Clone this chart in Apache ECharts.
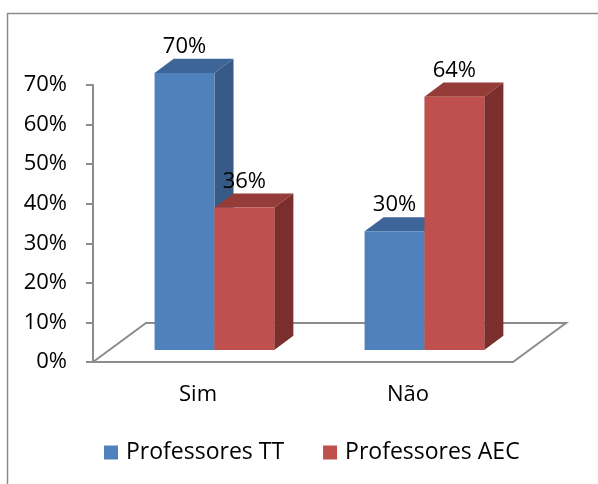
<!DOCTYPE html>
<html>
<head>
<meta charset="utf-8">
<script src="https://cdn.jsdelivr.net/npm/echarts@6/dist/echarts.min.js"></script>
<style>html,body{margin:0;padding:0;background:#fff;}#c{width:598px;height:484px;}</style>
</head>
<body>
<div id="c"></div>
<script>
var categories = ['Sim', 'Não'];
var seriesNames = ['Professores TT', 'Professores AEC'];
var valuesTT = [70, 30];
var valuesAEC = [36, 64];
var yTicks = [0, 10, 20, 30, 40, 50, 60, 70];

var FONT = '"Open Sans", "Noto Sans", sans-serif';
var DEPTH_X = 53, DEPTH_Y = -39;     // floor depth offset in px
var BAR_Z0 = 0.31, BAR_DZ = 0.36;    // bar position in depth (fraction)
var BAR_W = 0.285;                   // bar width as fraction of band
var colors = [
  {front: '#4F81BD', top: '#3E6598', side: '#375A87'},
  {front: '#C0504D', top: '#953B38', side: '#7A2F2D'}
];

function barRender(sIdx) {
  return function (params, api) {
    var cat = api.value(0), v = api.value(1);
    var bw = api.size([1, 0])[0];
    var c = api.coord([cat, 0]);
    var t = api.coord([cat, v]);
    var w = bw * BAR_W;
    var ox = BAR_Z0 * DEPTH_X, oy = BAR_Z0 * DEPTH_Y;
    var dx = BAR_DZ * DEPTH_X, dy = BAR_DZ * DEPTH_Y;
    var x0 = c[0] - w + sIdx * w + ox, x1 = x0 + w;
    var yb = c[1] + oy, yt = t[1] + oy;
    var col = colors[sIdx];
    return {
      type: 'group',
      children: [
        {type: 'polygon', shape: {points: [[x0, yt], [x1, yt], [x1 + dx, yt + dy], [x0 + dx, yt + dy]]}, style: {fill: col.top}},
        {type: 'polygon', shape: {points: [[x1, yt], [x1 + dx, yt + dy], [x1 + dx, yb + dy], [x1, yb]]}, style: {fill: col.side}},
        {type: 'rect', shape: {x: x0, y: yt, width: w, height: yb - yt}, style: {fill: col.front}},
        {type: 'text', x: (x0 + x1) / 2, y: yt + dy - 1, style: {text: v + '%', fill: '#000', font: '22px ' + FONT, align: 'center', verticalAlign: 'bottom'}}
      ]
    };
  };
}

function floorRender(params, api) {
  var bw = api.size([1, 0])[0];
  var a = api.coord([0, 0]);
  var b = api.coord([categories.length - 1, 0]);
  var xl = a[0] - bw / 2, xr = b[0] + bw / 2, y = a[1];
  return {
    type: 'polyline',
    shape: {points: [[xl, y], [xl + DEPTH_X, y + DEPTH_Y], [xr + DEPTH_X, y + DEPTH_Y], [xr, y]]},
    style: {stroke: '#8c8c8c', lineWidth: 2, fill: null}
  };
}

var chart = echarts.init(document.getElementById('c'));
chart.setOption({
  animation: false,
  graphic: [{type: 'rect', shape: {x: 7.5, y: 13.5, width: 800, height: 800}, style: {fill: null, stroke: '#8c8c8c', lineWidth: 1.5}, z: -10}],
  grid: {left: 93, right: 85, top: 85, bottom: 122},
  legend: {
    data: seriesNames, left: 104, top: 441, padding: 0,
    itemWidth: 14, itemHeight: 14, itemGap: 39, icon: 'rect',
    textStyle: {fontSize: 23, fontFamily: FONT, color: '#000', padding: [0, 0, 0, 3]}
  },
  xAxis: {
    type: 'category', data: categories,
    axisLine: {lineStyle: {color: '#8c8c8c', width: 2}},
    axisTick: {length: 8, lineStyle: {color: '#8c8c8c', width: 2}},
    axisLabel: {fontSize: 22, fontFamily: FONT, color: '#000', margin: 22},
    splitLine: {show: false}
  },
  yAxis: {
    type: 'value', min: 0, max: 70, interval: 10,
    axisLine: {show: true, lineStyle: {color: '#8c8c8c', width: 2}},
    axisTick: {show: true, length: 7, lineStyle: {color: '#8c8c8c', width: 2}},
    axisLabel: {fontSize: 22, fontFamily: FONT, color: '#000', margin: 26, formatter: function (v) { return yTicks.indexOf(v) >= 0 ? v + '%' : ''; }},
    splitLine: {show: false}
  },
  series: [
    {type: 'custom', name: 'floor', renderItem: floorRender, data: [[0, 0]], z: 1, silent: true},
    {type: 'custom', name: seriesNames[0], renderItem: barRender(0), data: valuesTT.map(function (v, i) { return [i, v]; }), itemStyle: {color: colors[0].front}, z: 2},
    {type: 'custom', name: seriesNames[1], renderItem: barRender(1), data: valuesAEC.map(function (v, i) { return [i, v]; }), itemStyle: {color: colors[1].front}, z: 2}
  ]
});
</script>
</body>
</html>
